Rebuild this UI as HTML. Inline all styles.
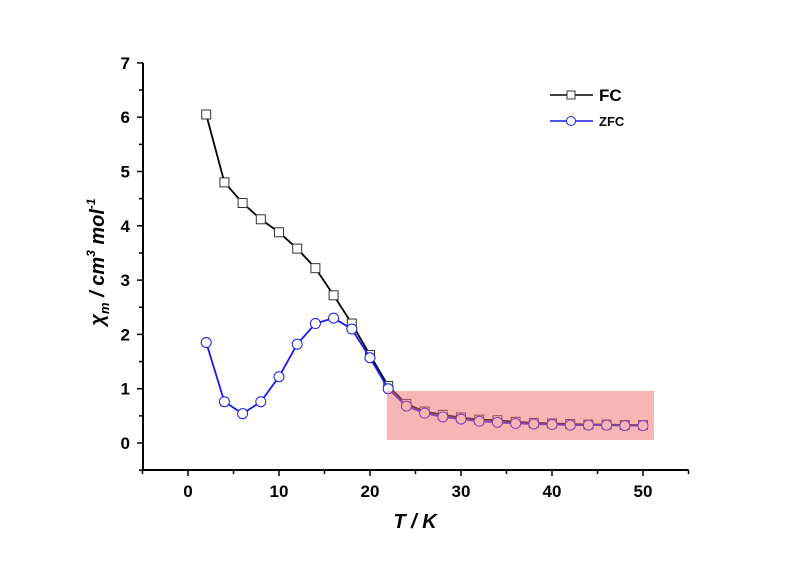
<!DOCTYPE html>
<html><head><meta charset="utf-8"><style>
body{margin:0;background:#fff}
svg{display:block;font-family:"Liberation Sans",sans-serif}
</style></head><body>
<svg id="chart" width="800" height="565" viewBox="0 0 800 565">
<g id="axes"></g>
<g id="series"></g>
<rect x="387" y="391" width="267" height="49" fill="rgb(240,110,110)" fill-opacity="0.5"/>
<g>
 <line x1="550" y1="95" x2="593" y2="95" stroke="#000" stroke-width="1.5"/>
 <rect x="567" y="91" width="8" height="8" fill="#fff" stroke="#333"/>
 <text x="599" y="101" font-size="17" font-weight="bold">FC</text>
 <line x1="550" y1="121" x2="593" y2="121" stroke="#1a1aee" stroke-width="1.5"/>
 <circle cx="571" cy="121" r="4.5" fill="#fff" stroke="#1a1aee"/>
 <text x="599" y="126" font-size="13" font-weight="bold">ZFC</text>
</g>
<text x="415" y="528" font-size="20" font-weight="bold" font-style="italic" text-anchor="middle">T / K</text>
<text transform="translate(104,262) rotate(-90)" font-size="20" font-weight="bold" font-style="italic" text-anchor="middle">χ<tspan font-size="13" dy="5">m</tspan><tspan dy="-5"> / cm</tspan><tspan font-size="12" dy="-9">3</tspan><tspan dy="9"> mol</tspan><tspan font-size="12" dy="-9">-1</tspan></text>
</svg>
<script>
const temps=[2,4,6,8,10,12,14,16,18,20,22,24,26,28,30,32,34,36,38,40,42,44,46,48,50];
const fcValues=[6.05,4.8,4.42,4.12,3.88,3.58,3.22,2.72,2.2,1.62,1.05,0.72,0.58,0.52,0.47,0.43,0.42,0.39,0.37,0.36,0.35,0.34,0.34,0.33,0.33];
const zfcValues=[1.85,0.76,0.54,0.76,1.22,1.82,2.2,2.3,2.1,1.57,1.0,0.68,0.55,0.48,0.44,0.4,0.38,0.36,0.35,0.34,0.33,0.33,0.33,0.32,0.32];
const xTicks=[0,10,20,30,40,50];
const yTicks=[0,1,2,3,4,5,6,7];
const NS="http://www.w3.org/2000/svg";
const X=v=>188+(v)*9.1, Y=v=>443-v*54.3;
function mk(t,a,p){const e=document.createElementNS(NS,t);for(const k in a)e.setAttribute(k,a[k]);p.appendChild(e);return e;}
const ax=document.getElementById('axes');
const yl=mk('line',{x1:143,y1:Y(7),x2:143,y2:470,stroke:'#000','stroke-width':2},ax);


const xl=mk('line',{x1:142,y1:470,x2:X(55),y2:470,stroke:'#000','stroke-width':2},ax);


for(let v=-5;v<=55;v+=5){mk('line',{x1:X(v),y1:470,x2:X(v),y2:v%10===0?476:474,stroke:'#000','stroke-width':1.5},ax);}
xTicks.forEach(v=>{const t=mk('text',{x:X(v),y:497,'font-size':17,'font-weight':'bold','text-anchor':'middle'},ax);t.textContent=v;

});
for(let v=-0.5;v<=7;v+=0.5){mk('line',{x1:143,y1:Y(v),x2:Number.isInteger(v)?137:139,y2:Y(v),stroke:'#000','stroke-width':1.5},ax);}
yTicks.forEach(v=>{const t=mk('text',{x:130,y:Y(v)+6,'font-size':17,'font-weight':'bold','text-anchor':'end'},ax);t.textContent=v;

});
const sg=document.getElementById('series');
function series(vals,col,name,circ){
 const pts=temps.map((t,i)=>X(t)+','+Y(vals[i])).join(' ');
 const pl=mk('polyline',{points:pts,fill:'none',stroke:col,'stroke-width':1.8},sg);
 
 
 temps.forEach((t,i)=>{let m;
  if(circ)m=mk('circle',{cx:X(t),cy:Y(vals[i]),r:5,fill:'#fff',stroke:col,'stroke-width':1},sg);
  else m=mk('rect',{x:X(t)-4.5,y:Y(vals[i])-4.5,width:9,height:9,fill:'#fff',stroke:'#333','stroke-width':1},sg);
  
  });
}
series(fcValues,'#000','fc',false);
series(zfcValues,'#1a1aee','zfc',true);
</script>
</body></html>
